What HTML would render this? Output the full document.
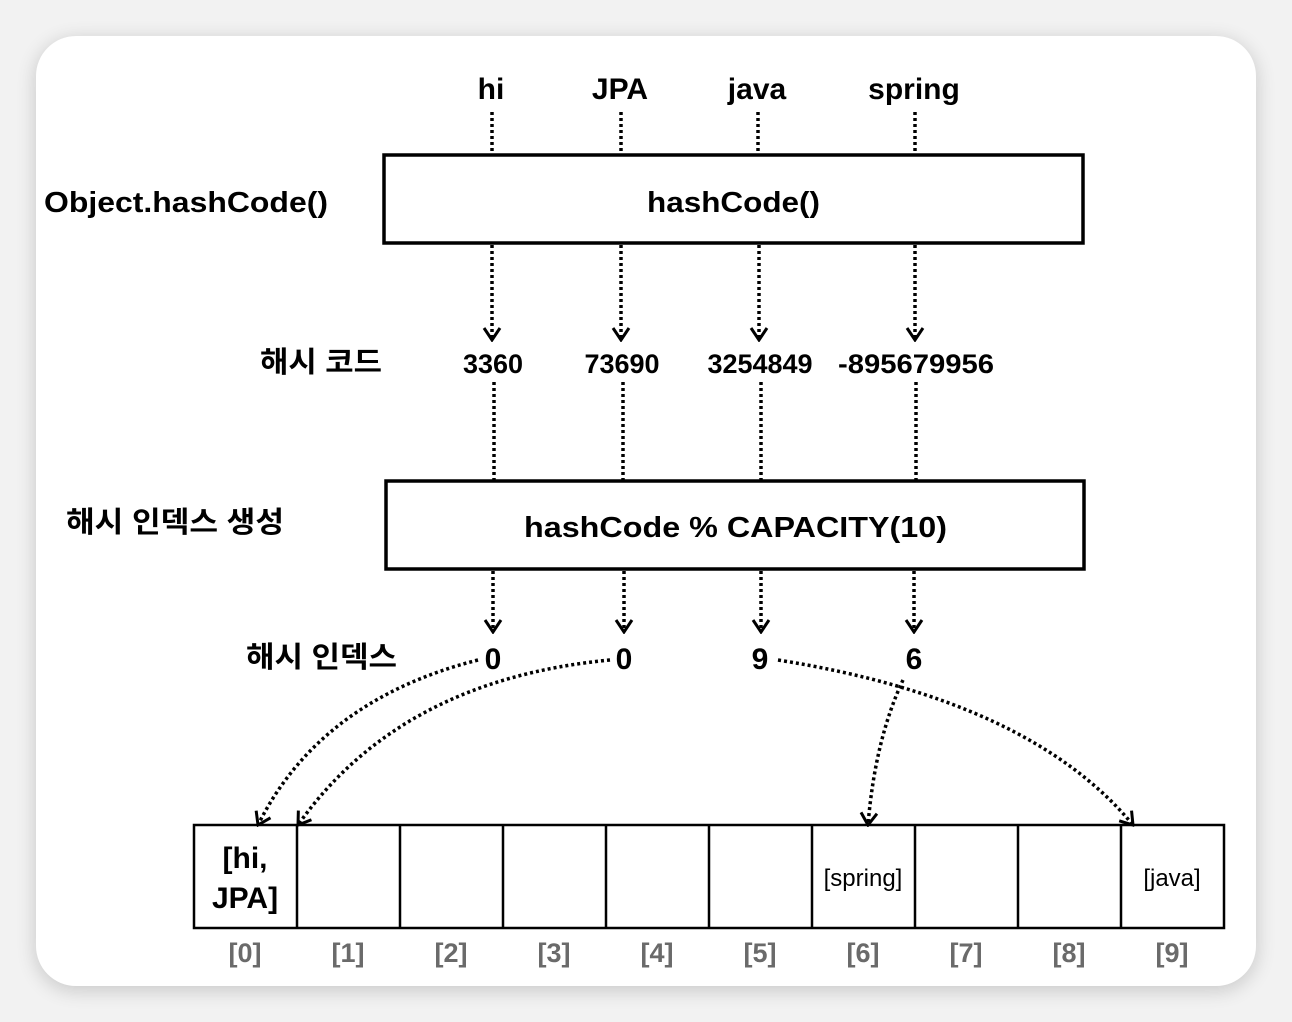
<!DOCTYPE html>
<html><head><meta charset="utf-8"><style>
html,body{margin:0;padding:0;width:1292px;height:1022px;background:#efefef;overflow:hidden}
svg text{font-family:"Liberation Sans","Noto Sans CJK KR",sans-serif;}
</style></head><body>
<svg width="1292" height="1022" viewBox="0 0 1292 1022" xmlns="http://www.w3.org/2000/svg">
<defs>
<filter id="sh" x="-10%" y="-10%" width="120%" height="120%"><feGaussianBlur stdDeviation="10"/></filter>
<marker id="ar" viewBox="0 0 20 20" refX="18" refY="10" markerWidth="20" markerHeight="20" markerUnits="userSpaceOnUse" orient="auto">
<path d="M6,2 L18,10 L6,18" fill="none" stroke="#000" stroke-width="3"/></marker>
</defs>
<rect x="0" y="0" width="1292" height="1022" fill="#f2f2f2"/>
<rect x="36" y="40" width="1220" height="950" rx="40" fill="#000" opacity="0.18" filter="url(#sh)"/>
<rect x="36" y="36" width="1220" height="950" rx="40" fill="#fff"/>

<g font-size="30" text-anchor="middle" font-weight="bold" fill="#000">
<text x="491" y="99">hi</text><text x="620" y="99">JPA</text><text x="757" y="99">java</text><text x="914" y="99">spring</text>
</g>
<g stroke="#000" stroke-width="3.5" stroke-dasharray="3 3" fill="none">
<line x1="492" y1="112" x2="492" y2="155"/><line x1="621" y1="112" x2="621" y2="155"/><line x1="758" y1="112" x2="758" y2="155"/><line x1="915" y1="112" x2="915" y2="155"/>
<line x1="492" y1="245" x2="492" y2="340" marker-end="url(#ar)"/><line x1="621" y1="245" x2="621" y2="340" marker-end="url(#ar)"/><line x1="759" y1="245" x2="759" y2="340" marker-end="url(#ar)"/><line x1="915" y1="245" x2="915" y2="340" marker-end="url(#ar)"/>
<line x1="494" y1="382" x2="494" y2="481"/><line x1="623" y1="382" x2="623" y2="481"/><line x1="761" y1="382" x2="761" y2="481"/><line x1="916" y1="382" x2="916" y2="481"/>
<line x1="493" y1="571" x2="493" y2="632" marker-end="url(#ar)"/><line x1="624" y1="571" x2="624" y2="632" marker-end="url(#ar)"/><line x1="761" y1="571" x2="761" y2="632" marker-end="url(#ar)"/><line x1="914" y1="571" x2="914" y2="632" marker-end="url(#ar)"/>
<path d="M478,660 Q320,700 258,825" marker-end="url(#ar)"/>
<path d="M610,660 Q400,680 298,825" marker-end="url(#ar)"/>
<path d="M778,660 Q1030,700 1133,825" marker-end="url(#ar)"/>
<path d="M903,680 Q875,740 868,825" marker-end="url(#ar)"/>
</g>
<rect x="384" y="155" width="699" height="88" fill="none" stroke="#000" stroke-width="3.5"/>
<rect x="386" y="481" width="698" height="88" fill="none" stroke="#000" stroke-width="3.5"/>
<g font-size="29" font-weight="bold" fill="#000">
<text x="44" y="212" textLength="284" lengthAdjust="spacingAndGlyphs">Object.hashCode()</text>
<text x="647" y="212" textLength="173" lengthAdjust="spacingAndGlyphs">hashCode()</text>
<text x="524" y="537" textLength="423" lengthAdjust="spacingAndGlyphs">hashCode % CAPACITY(10)</text>
<text x="260" y="372" textLength="122" lengthAdjust="spacingAndGlyphs">해시 코드</text>
<text x="66" y="532" textLength="218" lengthAdjust="spacingAndGlyphs">해시 인덱스 생성</text>
<text x="246" y="667" textLength="151" lengthAdjust="spacingAndGlyphs">해시 인덱스</text>
</g>
<g font-size="27" text-anchor="middle" font-weight="bold" fill="#000">
<text x="493" y="373">3360</text><text x="622" y="373">73690</text><text x="760" y="373">3254849</text><text x="916" y="373" textLength="156" lengthAdjust="spacingAndGlyphs">-895679956</text>
</g>
<g font-size="30" text-anchor="middle" font-weight="bold" fill="#000">
<text x="493" y="669">0</text><text x="624" y="669">0</text><text x="760" y="669">9</text><text x="914" y="669">6</text>
</g>
<g fill="none" stroke="#000" stroke-width="2.5">
<rect x="194" y="825" width="1030" height="103"/>
<line x1="297" y1="825" x2="297" y2="928"/><line x1="400" y1="825" x2="400" y2="928"/><line x1="503" y1="825" x2="503" y2="928"/><line x1="606" y1="825" x2="606" y2="928"/><line x1="709" y1="825" x2="709" y2="928"/><line x1="812" y1="825" x2="812" y2="928"/><line x1="915" y1="825" x2="915" y2="928"/><line x1="1018" y1="825" x2="1018" y2="928"/><line x1="1121" y1="825" x2="1121" y2="928"/>
</g>
<g text-anchor="middle" fill="#000">
<text x="245" y="868" font-size="30" font-weight="bold">[hi,</text><text x="245" y="908" font-size="30" font-weight="bold">JPA]</text>
<text x="863" y="886" font-size="24">[spring]</text>
<text x="1172" y="886" font-size="24">[java]</text>
</g>
<g font-size="27" text-anchor="middle" font-weight="bold" fill="#6a6a6a">
<text x="245" y="962">[0]</text><text x="348" y="962">[1]</text><text x="451" y="962">[2]</text><text x="554" y="962">[3]</text><text x="657" y="962">[4]</text><text x="760" y="962">[5]</text><text x="863" y="962">[6]</text><text x="966" y="962">[7]</text><text x="1069" y="962">[8]</text><text x="1172" y="962">[9]</text>
</g>
</svg>
</body></html>
